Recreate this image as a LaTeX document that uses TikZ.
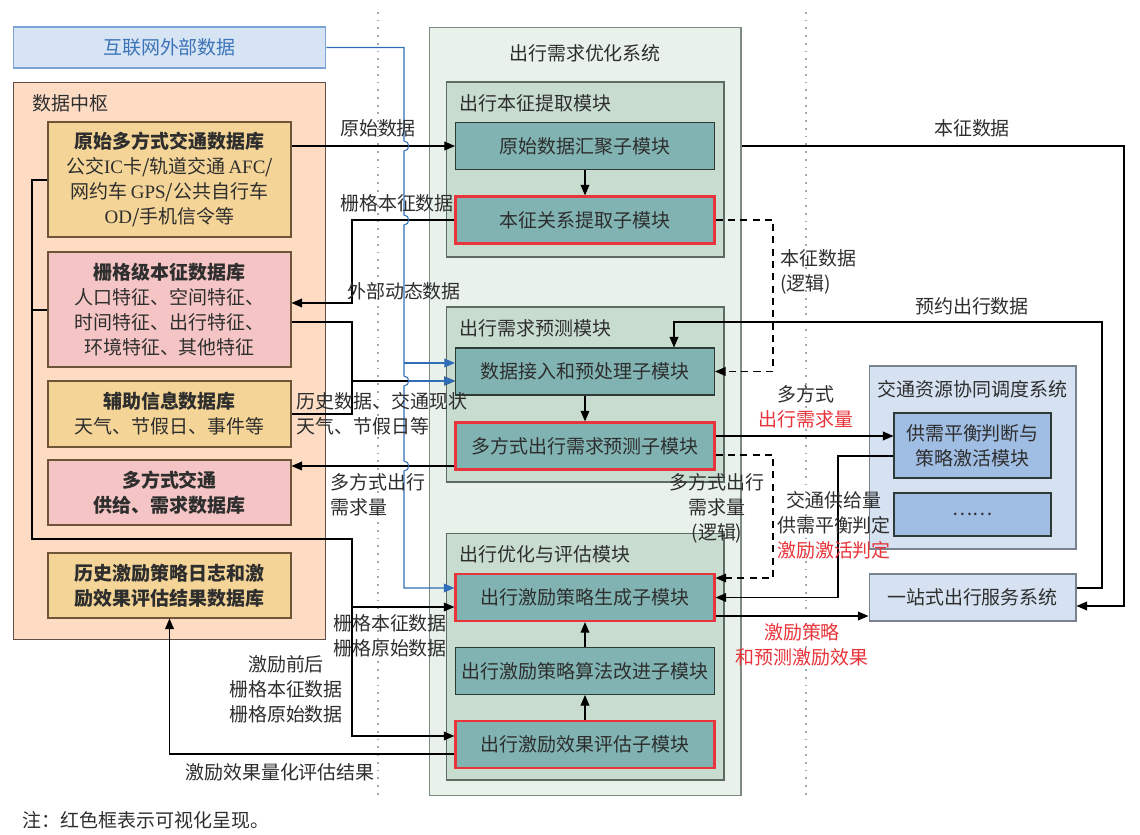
\documentclass[tikz,border=0pt]{standalone}
\usepackage{fontspec}
\setmainfont{Noto Sans CJK SC}
\newfontfamily\latserif{Liberation Serif}
\usetikzlibrary{arrows.meta}
\definecolor{txt}{HTML}{2E2E2E}
\definecolor{webfill}{HTML}{D6E4F4}
\definecolor{webline}{HTML}{7AA3D6}
\definecolor{webtext}{HTML}{3D74B8}
\definecolor{hubfill}{HTML}{FDDCC3}
\definecolor{hubline}{HTML}{5E5048}
\definecolor{tanfill}{HTML}{F5D597}
\definecolor{pinkfill}{HTML}{F4C5C4}
\definecolor{dbline}{HTML}{6E5538}
\definecolor{sysfill}{HTML}{E8F2EA}
\definecolor{sysline}{HTML}{7C8A82}
\definecolor{modfill}{HTML}{C8DCCF}
\definecolor{modline}{HTML}{5E6B63}
\definecolor{subteal}{HTML}{80B3B1}
\definecolor{subline}{HTML}{2E3A36}
\definecolor{visred}{HTML}{E8343A}
\definecolor{rsfill}{HTML}{D6E2F2}
\definecolor{rsline}{HTML}{7A8290}
\definecolor{balfill}{HTML}{A0BDE3}
\definecolor{bluearr}{HTML}{2F6DB8}
\begin{document}
\begin{tikzpicture}[x=0.02cm,y=-0.02cm,font=\fontsize{10.8}{14.2}\selectfont,text=txt,line width=0.6pt,
  sub/.style={draw=subline,fill=subteal,minimum width=5.18cm,minimum height=0.94cm,inner sep=1pt},
  vis/.style={sub,draw=visred,line width=1.3pt},
  mod/.style={draw=modline,fill=modfill,minimum width=5.56cm,minimum height=3.5cm},
  db/.style={draw=dbline,minimum width=4.86cm,align=center,inner sep=1pt},
  tan/.style={db,fill=tanfill}, pink/.style={db,fill=pinkfill},
  rsbox/.style={draw=rsline,fill=rsfill,minimum width=4.14cm,align=center},
  balbox/.style={draw=subline,fill=balfill,minimum width=3.14cm,align=center},
  lbl/.style={align=center,inner sep=0pt},
  arr/.style={-{Triangle[length=6pt,width=5pt]}},
  dsh/.style={dash pattern=on 4pt off 3pt},
  hop/.style={out=0,in=0,looseness=1.6}]
\useasboundingbox (0,0) rectangle (1140,835);
% dotted dividers
\draw[gray!70,line width=1.2pt,dash pattern=on 1pt off 3.4pt] (378,12) -- (378,800);
\draw[gray!70,line width=1.2pt,dash pattern=on 1pt off 3.4pt] (806,12) -- (806,800);

% data hub
\node[draw=webline,fill=webfill,minimum width=6.26cm,minimum height=0.82cm,text=webtext] (web) at (169.5,47.5) {互联网外部数据};
\node[draw=hubline,fill=hubfill,minimum width=6.26cm,minimum height=11.16cm] (hub) at (169.5,361) {};
\node[anchor=west] (hubT) at (26,103) {数据中枢};
\node[tan,minimum height=2.3cm] (db1) at (169.5,179.5) {\textbf{原始多方式交通数据库}\\公交{\latserif IC}卡/轨道交通\,{\latserif AFC}/\\网约车\,{\latserif GPS}/公共自行车\\{\latserif OD}/手机信令等};
\node[pink,minimum height=2.3cm] (db2) at (169.5,309.5) {\textbf{栅格级本征数据库}\\人口特征、空间特征、\\时间特征、出行特征、\\环境特征、其他特征};
\node[tan,minimum height=1.32cm] (db3) at (169.5,414) {\textbf{辅助信息数据库}\\天气、节假日、事件等};
\node[pink,minimum height=1.3cm,font=\fontsize{10.8}{14.2}\selectfont\bfseries] (db4) at (169.5,492.5) {多方式交通\\供给、需求数据库};
\node[tan,minimum height=1.3cm,font=\fontsize{10.8}{14.2}\selectfont\bfseries] (db5) at (169.5,585.5) {历史激励策略日志和激\\励效果评估结果数据库};

% optimisation system
\node[draw=sysline,fill=sysfill,minimum width=6.24cm,minimum height=15.38cm] (sys) at (585,411.5) {};
\node (sysT) at (585,53) {出行需求优化系统};
\node[mod] (modA) at (585,169.5) {};
\node[anchor=west] (modAT) at (453,103) {出行本征提取模块};
\node[mod] (modB) at (585,394.5) {};
\node[anchor=west] (modBT) at (453,328) {出行需求预测模块};
\node[mod,minimum height=4.94cm] (modC) at (585,656.5) {};
\node[anchor=west] (modCT) at (453,554) {出行优化与评估模块};
\node[sub] (s1) at (585,146) {原始数据汇聚子模块};
\node[vis] (s2) at (585,220) {本征关系提取子模块};
\node[sub] (s3) at (585,371.5) {数据接入和预处理子模块};
\node[vis] (s4) at (585,446) {多方式出行需求预测子模块};
\node[vis] (s5) at (585,597.5) {出行激励策略生成子模块};
\node[sub] (s6) at (585,671) {出行激励策略算法改进子模块};
\node[vis] (s7) at (585,744.5) {出行激励效果评估子模块};

% right side systems
\node[rsbox,minimum height=3.66cm] (rs) at (972.5,457.5) {};
\node (rsT) at (972.5,389) {交通资源协同调度系统};
\node[balbox,minimum height=1.3cm] (bal) at (972.5,445.5) {供需平衡判断与\\策略激活模块};
\node[balbox,minimum height=0.86cm] (more) at (972.5,514.5) {……};
\node[rsbox,minimum height=0.94cm] (one) at (972.5,597.5) {一站式出行服务系统};

% connectors
\draw[arr] (s1.south) -- (s2.north);
\draw[arr] (s3.south) -- (s4.north);
\draw[arr] (s6.north) -- (s5.south);
\draw[arr] (s7.north) -- (s6.south);
\draw[arr] (db1.east|-s1) -- (s1.west);
\draw[arr] (s2.west) -- (352,220) |- (db2.east|-0,303);
\draw (db2.east|-0,322) -| (352,414) -- (db3.east|-0,414);
\draw[arr] (352,381) -- (s3.west|-0,381);
\draw[arr] (s4.west|-0,466) -- (db4.east|-0,466);
\draw[arr] (s7.west|-0,754) -| (db5.south);
\draw[arr] (db1.west|-0,180) -| (32,539) -| (352,736) -- (s7.west|-0,736);
\draw (db2.west|-0,310) -- (32,310);
\draw[arr] (352,607) -- (s5.west|-0,607);
\draw[bluearr,arr] (web.east) -- (404,47.5) -- (404,141) to[hop] (404,151) -- (404,215) to[hop] (404,225)
  -- (404,376) to[hop] (404,386) -- (404,461) to[hop] (404,471) -- (404,588) -- (s5.west|-0,588);
\draw[bluearr,arr] (404,363) -- (s3.west|-0,363);
\draw[bluearr,arr] (408,381) -- (s3.west|-0,381);
\draw[arr] (sys.east|-s1) -| (1124,606) -- (one.east|-0,606);
\draw[arr] (one.east|-0,588) -- (1102,588) |- (674,322) -- (s3.north-|674,0);
\draw[dsh,arr] (s2.east) -- (773,220) |- (s3.east);
\draw[dsh,arr] (s4.east|-0,455) -- (773,455) |- (s5.east|-0,578);
\draw[arr] (s4.east|-0,436) -- (bal.west|-0,436);
\draw[arr] (bal.west|-0,456) -- (838,456) |- (s5.east);
\draw[arr] (s5.east|-0,616) -- (one.west|-0,616);

% labels
\node[lbl] (l1) at (378,128) {原始数据};
\node[lbl] (l2) at (397,203) {栅格本征数据};
\node[lbl] (l3) at (404,291) {外部动态数据};
\node[lbl,anchor=west,align=left] (l4) at (296,414) {历史数据、交通现状\\天气、节假日等};
\node[lbl,anchor=west,align=left] (l5) at (330,495) {多方式出行\\需求量};
\node[lbl] (l6) at (390,636) {栅格本征数据\\栅格原始数据};
\node[lbl] (l7) at (286,689) {激励前后\\栅格本征数据\\栅格原始数据};
\node[lbl] (l8) at (280,772) {激励效果量化评估结果};
\node[lbl] (l9) at (972,128) {本征数据};
\node[lbl,anchor=west,align=left] (l10) at (780,272) {本征数据\\(逻辑)};
\node[lbl] (l11) at (972,306) {预约出行数据};
\node[lbl] (l12) at (806,407) {多方式\\\textcolor{visred}{出行需求量}};
\node[lbl] (l13) at (717,508) {多方式出行\\需求量\\(逻辑)};
\node[lbl] (l14) at (834,525) {交通供给量\\供需平衡判定\\\textcolor{visred}{激励激活判定}};
\node[lbl,text=visred] (l15) at (802,645) {激励策略\\和预测激励效果};
\node[anchor=west] (note) at (16,820) {注：红色框表示可视化呈现。};
\end{tikzpicture}
\end{document}
